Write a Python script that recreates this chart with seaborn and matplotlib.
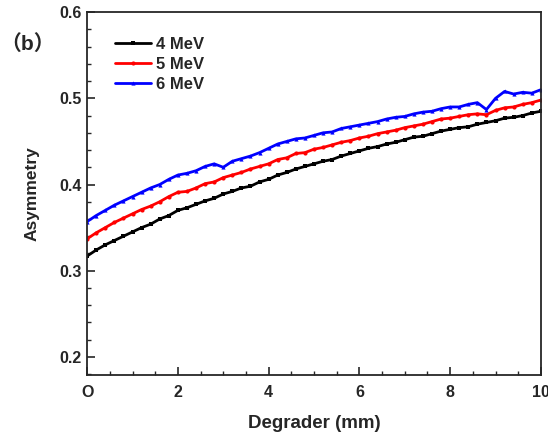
import numpy as np
import pandas as pd
import matplotlib
matplotlib.use("Agg")
import matplotlib.pyplot as plt
from matplotlib.ticker import MultipleLocator
import seaborn as sns

degrader = [0.0, 0.2, 0.4, 0.6, 0.8, 1.0, 1.2, 1.4, 1.6, 1.8, 2.0, 2.2, 2.4, 2.6, 2.8, 3.0, 3.2, 3.4, 3.6, 3.8,
            4.0, 4.2, 4.4, 4.6, 4.8, 5.0, 5.2, 5.4, 5.6, 5.8, 6.0, 6.2, 6.4, 6.6, 6.8, 7.0, 7.2, 7.4, 7.6, 7.8,
            8.0, 8.2, 8.4, 8.6, 8.8, 9.0, 9.2, 9.4, 9.6, 9.8, 10.0]

asym_4mev = [0.317, 0.324, 0.330, 0.335, 0.340, 0.345, 0.350, 0.354, 0.360, 0.364, 0.370, 0.373, 0.377, 0.381,
             0.384, 0.389, 0.392, 0.396, 0.398, 0.403, 0.406, 0.411, 0.414, 0.418, 0.421, 0.424, 0.427, 0.429,
             0.433, 0.436, 0.439, 0.442, 0.444, 0.447, 0.449, 0.452, 0.455, 0.456, 0.459, 0.462, 0.464, 0.466,
             0.467, 0.470, 0.472, 0.474, 0.477, 0.478, 0.480, 0.483, 0.485]

asym_5mev = [0.337, 0.344, 0.350, 0.356, 0.361, 0.366, 0.371, 0.375, 0.380, 0.386, 0.391, 0.392, 0.396, 0.401,
             0.403, 0.408, 0.411, 0.414, 0.418, 0.421, 0.424, 0.429, 0.431, 0.436, 0.437, 0.441, 0.443, 0.446,
             0.449, 0.451, 0.454, 0.456, 0.459, 0.461, 0.463, 0.466, 0.468, 0.470, 0.473, 0.476, 0.477, 0.479,
             0.481, 0.482, 0.481, 0.486, 0.489, 0.490, 0.493, 0.495, 0.498]

asym_6mev = [0.357, 0.364, 0.370, 0.376, 0.381, 0.386, 0.391, 0.396, 0.400, 0.406, 0.411, 0.413, 0.416, 0.421,
             0.424, 0.420, 0.427, 0.430, 0.433, 0.437, 0.442, 0.447, 0.450, 0.453, 0.454, 0.457, 0.460, 0.461,
             0.465, 0.467, 0.469, 0.471, 0.473, 0.476, 0.478, 0.479, 0.482, 0.484, 0.485, 0.488, 0.490, 0.490,
             0.493, 0.495, 0.487, 0.500, 0.508, 0.505, 0.507, 0.506, 0.510]

series_labels = ["4 MeV", "5 MeV", "6 MeV"]
x_tick_vals = [0, 2, 4, 6, 8, 10]
x_tick_labels = ["O", "2", "4", "6", "8", "10"]
y_tick_vals = [0.2, 0.3, 0.4, 0.5, 0.6]

sns.set_style("ticks")
plt.rcParams["font.family"] = ["Liberation Sans", "DejaVu Sans"]
plt.rcParams["font.weight"] = "bold"
plt.rcParams["axes.labelweight"] = "bold"

fig = plt.figure(figsize=(5.48, 4.34), dpi=100)
ax = fig.add_axes([0.159, 0.136, 0.828, 0.836])

colors = ["black", "#ff0000", "#0000ff"]
markers = ["s", "o", "^"]
for vals, lab, c, m in zip([asym_4mev, asym_5mev, asym_6mev], series_labels, colors, markers):
    df = pd.DataFrame({"x": degrader, "y": vals})
    sns.lineplot(data=df, x="x", y="y", ax=ax, color=c, marker=m, markersize=3,
                 markeredgewidth=0, linewidth=2.0, label=lab)

ax.set_xlim(0, 10)
ax.set_ylim(0.179, 0.6)
ax.set_xticks(x_tick_vals)
ax.set_xticklabels(x_tick_labels)
ax.set_yticks(y_tick_vals)
ax.set_yticklabels([f"{v:.1f}" for v in y_tick_vals])
ax.xaxis.set_minor_locator(MultipleLocator(0.5))
ax.yaxis.set_minor_locator(MultipleLocator(0.02))
ax.tick_params(which="major", direction="in", length=6, width=1.2, labelsize=11.5)
ax.tick_params(axis="x", which="major", pad=7)
ax.tick_params(axis="y", which="major", pad=4)
ax.tick_params(which="minor", direction="in", length=3, width=1.0)
for s in ax.spines.values():
    s.set_linewidth(1.3)
    s.set_visible(True)

ax.set_xlabel("Degrader (mm)", fontsize=13.5, fontweight="bold", labelpad=11)
ax.set_ylabel("Asymmetry", fontsize=12.5, fontweight="bold", labelpad=14)

leg = ax.legend(loc="upper left", bbox_to_anchor=(0.046, 0.95), frameon=False,
                prop={"size": 12, "weight": "bold"}, handlelength=2.2, handletextpad=0.3,
                labelspacing=0.3, borderaxespad=0)

fig.text(0.0, 0.898, "（b）", fontsize=15, fontweight="bold", va="center", ha="left",
         family=["Liberation Sans", "Noto Sans CJK SC"])

fig.savefig("out.png", dpi=100)
